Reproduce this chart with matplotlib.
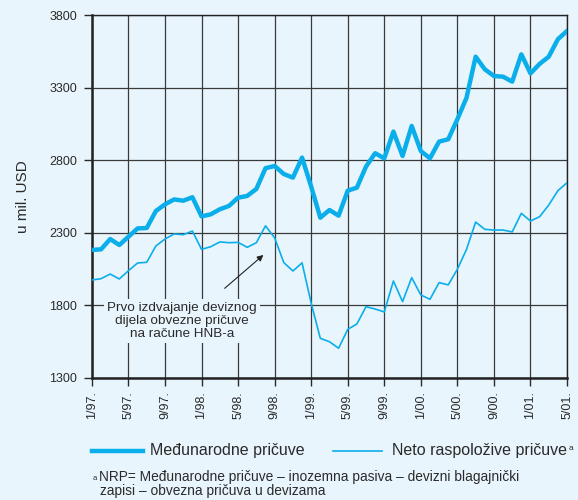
import matplotlib.pyplot as plt

plt.rcParams['font.family'] = ['Liberation Sans', 'DejaVu Sans']

# monthly values, 1/97. - 5/01.
medjunarodne = [2182, 2186, 2257, 2216, 2273, 2330, 2333, 2450, 2496, 2530, 2521, 2545,
                2413, 2427, 2462, 2485, 2542, 2554, 2602, 2745, 2760, 2705, 2680, 2818,
                2618, 2404, 2457, 2418, 2590, 2611, 2756, 2848, 2813, 2997, 2829, 3036,
                2863, 2813, 2928, 2944, 3082, 3230, 3513, 3426, 3380, 3375, 3341, 3529,
                3398, 3463, 3513, 3633, 3690]
neto = [1975, 1984, 2016, 1982, 2039, 2092, 2097, 2209, 2257, 2292, 2287, 2312,
        2186, 2204, 2237, 2232, 2234, 2200, 2232, 2348, 2265, 2095, 2037, 2093,
        1815, 1573, 1550, 1505, 1635, 1672, 1791, 1775, 1755, 1968, 1826, 1991,
        1872, 1842, 1957, 1941, 2049, 2186, 2374, 2324, 2319, 2319, 2306, 2434,
        2381, 2411, 2491, 2590, 2645]
tick_labels = ['1/97.', '5/97.', '9/97.', '1/98.', '5/98.', '9/98.', '1/99.',
               '5/99.', '9/99.', '1/00.', '5/00.', '9/00.', '1/01.', '5/01.']

bg = '#e9f5fd'
blue = '#0aaeea'
txt = '#2a2a2a'

fig = plt.figure(figsize=(5.78, 5.0), dpi=100, facecolor=bg)
ax = fig.add_axes([0.159, 0.244, 0.822, 0.726], facecolor=bg)

x = range(len(medjunarodne))
ax.plot(x, medjunarodne, color=blue, lw=3.2, zorder=3)
ax.plot(x, neto, color=blue, lw=1.2, zorder=3)

ax.set_xlim(0, len(medjunarodne) - 1)
ax.set_ylim(1300, 3800)
ax.set_yticks(range(1300, 3801, 500))
ax.set_xticks(range(0, len(medjunarodne), 4))
ax.set_xticklabels(tick_labels, rotation=90)
ax.tick_params(axis='both', labelsize=9, colors=txt, length=5.5, width=1)
ax.tick_params(axis='y', pad=5)
ax.tick_params(axis='x', pad=4)
ax.grid(True, color='#3a3a3a', lw=0.9)
ax.set_axisbelow(True)
for s in ax.spines.values():
    s.set_color('#222222')
    s.set_linewidth(1.0)
ax.spines['left'].set_linewidth(1.8)
ax.spines['bottom'].set_linewidth(1.8)
ax.set_ylabel('u mil. USD', fontsize=11, color=txt, labelpad=14)

ax.annotate('', xy=(19.0, 2160), xytext=(14.3, 1905),
            arrowprops=dict(arrowstyle='-|>', color='#222222', lw=0.8, mutation_scale=9),
            zorder=4)
ax.text(9.86, 1695, 'Prvo izdvajanje deviznog\ndijela obvezne pričuve\nna račune HNB-a',
        ha='center', va='center', fontsize=9.7, color=txt, linespacing=1.12,
        bbox=dict(facecolor=bg, edgecolor='none', pad=2), zorder=5)

# legend drawn by hand
fig.add_artist(plt.Line2D([0.159, 0.247], [0.098, 0.098], color=blue, lw=3.2))
fig.text(0.260, 0.098, 'Međunarodne pričuve', fontsize=11.5, color=txt, va='center')
fig.add_artist(plt.Line2D([0.576, 0.661], [0.098, 0.098], color=blue, lw=1.2))
neto_txt = fig.text(0.678, 0.098, 'Neto raspoložive pričuve', fontsize=11.5,
                    color=txt, va='center')
# superscript a right after the legend text
fig.add_artist(plt.Annotation('a', xy=(1, 1), xycoords=neto_txt, xytext=(1, -1),
                              textcoords='offset points', fontsize=6, color=txt, va='top'))

# footnote
fig.text(0.161, 0.043, 'a', fontsize=5.5, color=txt, va='center')
fig.text(0.171, 0.046, 'NRP= Međunarodne pričuve – inozemna pasiva – devizni blagajnički',
         fontsize=9.9, color=txt, va='center')
fig.text(0.173, 0.019, 'zapisi – obvezna pričuva u devizama',
         fontsize=9.9, color=txt, va='center')

plt.savefig('out.png', dpi=100, facecolor=bg)
